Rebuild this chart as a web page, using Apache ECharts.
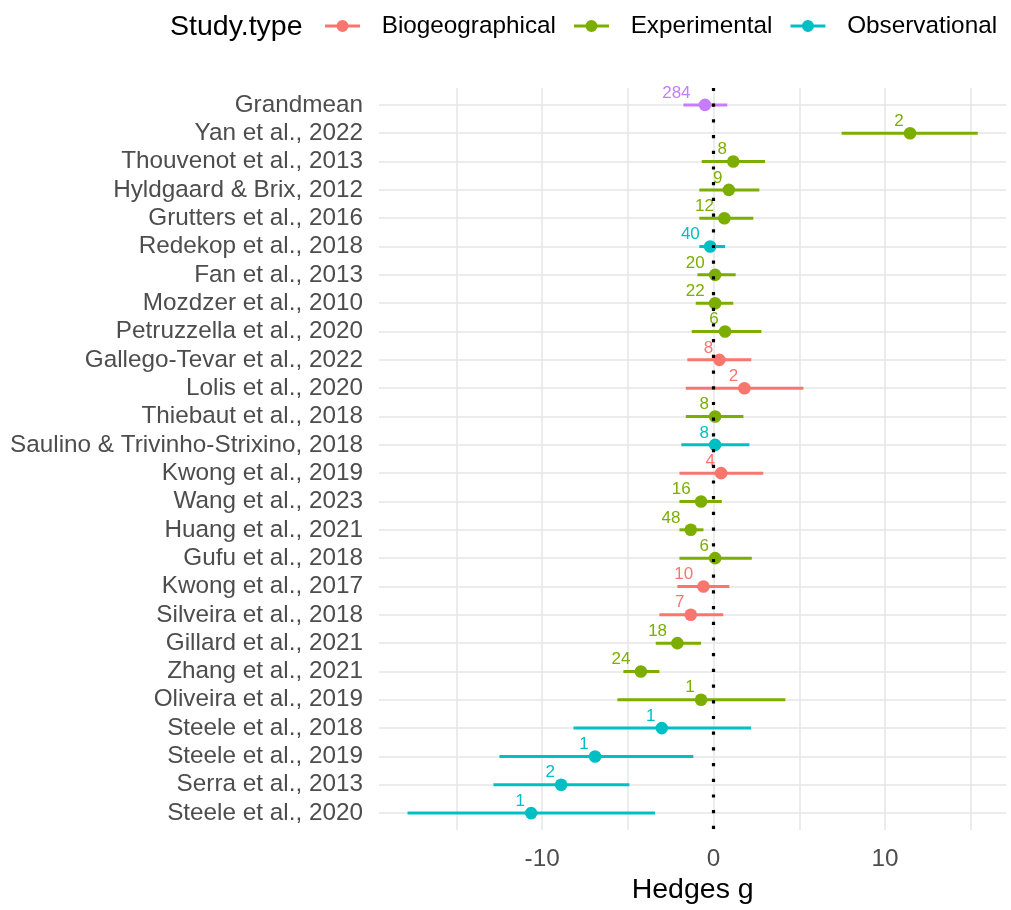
<!DOCTYPE html>
<html>
<head>
<meta charset="utf-8">
<title>Hedges g forest plot</title>
<script src="https://cdn.jsdelivr.net/npm/echarts@6/dist/echarts.min.js"></script>
<style>
  html, body { margin: 0; padding: 0; background: #fff; }
  #chart { width: 1011px; height: 910px; }
</style>
</head>
<body>
<div id="chart"></div>
<script>
// Studies, top to bottom
const studies = [
  'Grandmean',
  'Yan et al., 2022',
  'Thouvenot et al., 2013',
  'Hyldgaard & Brix, 2012',
  'Grutters et al., 2016',
  'Redekop et al., 2018',
  'Fan et al., 2013',
  'Mozdzer et al., 2010',
  'Petruzzella et al., 2020',
  'Gallego-Tevar et al., 2022',
  'Lolis et al., 2020',
  'Thiebaut et al., 2018',
  'Saulino & Trivinho-Strixino, 2018',
  'Kwong et al., 2019',
  'Wang et al., 2023',
  'Huang et al., 2021',
  'Gufu et al., 2018',
  'Kwong et al., 2017',
  'Silveira et al., 2018',
  'Gillard et al., 2021',
  'Zhang et al., 2021',
  'Oliveira et al., 2019',
  'Steele et al., 2018',
  'Steele et al., 2019',
  'Serra et al., 2013',
  'Steele et al., 2020'
];

const studyType = [
  'Grandmean',
  'Experimental', 'Experimental', 'Experimental', 'Experimental',
  'Observational',
  'Experimental', 'Experimental', 'Experimental',
  'Biogeographical', 'Biogeographical',
  'Experimental',
  'Observational',
  'Biogeographical',
  'Experimental', 'Experimental', 'Experimental',
  'Biogeographical', 'Biogeographical',
  'Experimental', 'Experimental', 'Experimental',
  'Observational', 'Observational', 'Observational', 'Observational'
];

// Mean effect size (Hedges g) and 95% CI
const hedgesG = [-0.50, 11.46, 1.15, 0.89, 0.63, -0.20, 0.09, 0.09, 0.67, 0.34, 1.80, 0.09, 0.09,
  0.44, -0.73, -1.33, 0.09, -0.59, -1.33, -2.11, -4.24, -0.73, -3.02, -6.91, -8.89, -10.64];
const ciLower = [-1.76, 7.47, -0.69, -0.83, -0.83, -0.83, -0.94, -1.04, -1.27, -1.53, -1.62, -1.62, -1.88,
  -1.99, -1.99, -1.99, -1.99, -2.11, -3.16, -3.37, -5.26, -5.61, -8.17, -12.49, -12.84, -17.85];
const ciUpper = [0.80, 15.41, 3.00, 2.67, 2.32, 0.67, 1.29, 1.15, 2.79, 2.20, 5.24, 1.74, 2.09,
  2.90, 0.48, -0.59, 2.23, 0.92, 0.57, -0.73, -3.16, 4.19, 2.19, -1.18, -4.91, -3.41];
// Number of effect sizes per study
const nEffects = [284, 2, 8, 9, 12, 40, 20, 22, 6, 8, 2, 8, 8, 4, 16, 48, 6, 10, 7, 18, 24, 1, 1, 1, 2, 1];

const legendTypes = ['Biogeographical', 'Experimental', 'Observational'];
const typeColors = {
  Biogeographical: '#F8766D',
  Experimental: '#7CAE00',
  Observational: '#00BFC4',
  Grandmean: '#C77CFF'
};
const xTicks = [-15, -10, -5, 0, 5, 10, 15];
const xLabels = [-10, 0, 10];

const FONT = '"Liberation Sans", Arial, Helvetica, sans-serif';

// x range: data extent expanded by 5% on each side
const xMinData = Math.min(...ciLower);
const xMaxData = Math.max(...ciUpper);
const xPad = (xMaxData - xMinData) * 0.05;

function rowsOf(type) {
  const out = [];
  studies.forEach((s, i) => {
    if (studyType[i] === type) out.push([ciLower[i], ciUpper[i], hedgesG[i], i, nEffects[i]]);
  });
  return out;
}

function renderPointRange(params, api) {
  const color = api.visual('color');
  const row = api.value(3);
  const p0 = api.coord([api.value(0), row]);
  const p1 = api.coord([api.value(1), row]);
  const pm = api.coord([api.value(2), row]);
  const label = String(api.value(4));
  return {
    type: 'group',
    children: [
      { type: 'line', shape: { x1: p0[0], y1: p0[1], x2: p1[0], y2: p1[1] },
        style: { stroke: color, lineWidth: 3 } },
      { type: 'circle', shape: { cx: pm[0], cy: pm[1], r: 6.3 },
        style: { fill: color } },
      { type: 'text',
        x: pm[0] - (2.2 + 8.8 * label.length), y: pm[1] - 12,
        style: { text: label, fill: color, align: 'center', verticalAlign: 'middle',
                 font: '17px ' + FONT } }
    ]
  };
}

const legendIcon = 'path://M0,4.5h35v3h-35z M11.5,6a6,6 0 1,1 12,0a6,6 0 1,1 -12,0z';

const series = ['Grandmean'].concat(legendTypes).map(type => ({
  name: type,
  type: 'custom',
  coordinateSystem: 'cartesian2d',
  renderItem: renderPointRange,
  itemStyle: { color: typeColors[type] },
  encode: { x: [0, 1, 2], y: 3 },
  data: rowsOf(type),
  z: 2,
  silent: true
}));

// dotted reference line at g = 0
series.push({
  name: 'zero',
  type: 'custom',
  coordinateSystem: 'cartesian2d',
  renderItem: () => null,
  data: [],
  silent: true,
  markLine: {
    silent: true,
    symbol: ['none', 'none'],
    label: { show: false },
    lineStyle: { color: '#000', width: 3.2, type: [3.2, 12.5], cap: 'butt' },
    emphasis: { disabled: true },
    data: [{ xAxis: 0 }]
  }
});

const chart = echarts.init(document.getElementById('chart'), null, { renderer: 'canvas' });
chart.setOption({
  animation: false,
  backgroundColor: '#ffffff',
  textStyle: { fontFamily: FONT },
  grid: { left: 379, right: 4.7, top: 87.9, bottom: 76.4, containLabel: false },
  graphic: [{
    type: 'text', left: 170, top: 13,
    style: { text: 'Study.type', font: '28.5px ' + FONT, fill: '#000' }
  }],
  legend: {
    data: legendTypes.map(t => ({ name: t, icon: legendIcon })),
    left: 325, top: 14,
    padding: 0,
    itemWidth: 35, itemHeight: 12,
    itemGap: 18,
    selectedMode: false,
    textStyle: { fontSize: 24.3, color: '#000', fontFamily: FONT, padding: [0, 0, 0, 16.7] }
  },
  xAxis: {
    type: 'value',
    min: xMinData - xPad,
    max: xMaxData + xPad,
    name: 'Hedges g',
    nameLocation: 'middle',
    nameGap: 42,
    nameTextStyle: { fontSize: 28.5, color: '#000', fontFamily: FONT },
    axisLine: { show: false },
    axisTick: { show: false, customValues: xTicks },
    axisLabel: { customValues: xLabels, fontSize: 24.3, color: '#4D4D4D', margin: 17, fontFamily: FONT },
    splitLine: { show: true, lineStyle: { color: '#E6E6E6', width: 1.5 } }
  },
  yAxis: {
    type: 'value',
    inverse: true,
    min: -0.6,
    max: studies.length - 1 + 0.6,
    axisLine: { show: false },
    axisTick: { show: false, customValues: studies.map((s, i) => i) },
    axisLabel: {
      customValues: studies.map((s, i) => i),
      formatter: v => studies[Math.round(v)],
      fontSize: 24.3, color: '#4D4D4D', margin: 16, fontFamily: FONT,
      padding: [5, 0, 0, 0]
    },
    splitLine: { show: true, lineStyle: { color: '#E6E6E6', width: 1.5 } }
  },
  series: series
});
</script>
</body>
</html>
